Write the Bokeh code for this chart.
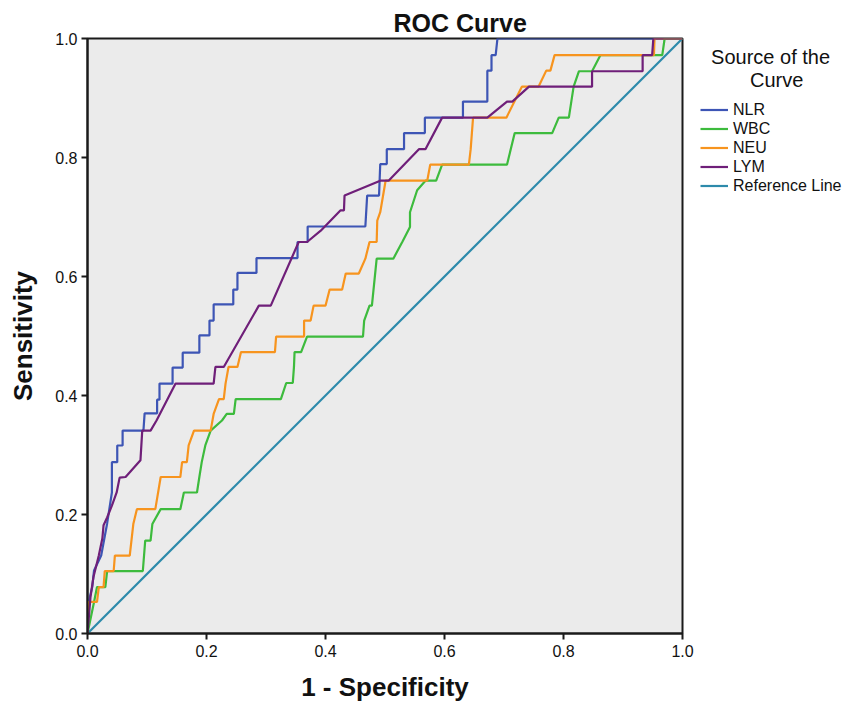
from bokeh.plotting import figure
from bokeh.models import Range1d, Legend, LegendItem, FixedTicker, PrintfTickFormatter
from bokeh.embed import file_html
from bokeh.resources import INLINE

# ---------------- data ----------------
nlr_fpr = [0, 0.002, 0.008, 0.011, 0.023, 0.033, 0.041, 0.041, 0.050, 0.050, 0.059, 0.059,
           0.094, 0.096, 0.117, 0.117, 0.121, 0.121, 0.143, 0.143, 0.160, 0.160, 0.188, 0.188,
           0.205, 0.205, 0.212, 0.212, 0.245, 0.245, 0.252, 0.252, 0.284, 0.284, 0.353, 0.353,
           0.370, 0.370, 0.467, 0.470, 0.490, 0.492, 0.503, 0.503, 0.532, 0.532, 0.567, 0.567,
           0.631, 0.631, 0.672, 0.672, 0.679, 0.679, 0.686, 0.689, 1.0]
nlr_tpr = [0, 0.053, 0.078, 0.106, 0.131, 0.185, 0.237, 0.288, 0.288, 0.316, 0.316, 0.341,
           0.341, 0.370, 0.370, 0.393, 0.393, 0.420, 0.420, 0.447, 0.447, 0.472, 0.472, 0.501,
           0.501, 0.526, 0.526, 0.553, 0.553, 0.578, 0.578, 0.606, 0.606, 0.631, 0.631, 0.658,
           0.658, 0.684, 0.684, 0.736, 0.736, 0.789, 0.789, 0.814, 0.814, 0.841, 0.841, 0.867,
           0.867, 0.894, 0.894, 0.946, 0.946, 0.972, 0.972, 1.0, 1.0]

wbc_fpr = [0, 0.011, 0.016, 0.030, 0.033, 0.093, 0.097, 0.106, 0.109, 0.123, 0.156, 0.162,
           0.184, 0.188, 0.192, 0.198, 0.207, 0.226, 0.234, 0.246, 0.249, 0.325, 0.334, 0.345,
           0.347, 0.348, 0.359, 0.369, 0.463, 0.465, 0.474, 0.478, 0.486, 0.514, 0.529, 0.542,
           0.542, 0.554, 0.568, 0.586, 0.596, 0.705, 0.718, 0.781, 0.792, 0.809, 0.817, 0.826,
           0.848, 0.862, 0.966, 0.970, 1.0]
wbc_tpr = [0, 0.053, 0.078, 0.078, 0.105, 0.105, 0.156, 0.156, 0.184, 0.209, 0.209, 0.237,
           0.237, 0.263, 0.288, 0.316, 0.341, 0.358, 0.369, 0.369, 0.394, 0.394, 0.421, 0.421,
           0.448, 0.473, 0.473, 0.499, 0.499, 0.526, 0.551, 0.551, 0.630, 0.630, 0.658, 0.683,
           0.708, 0.745, 0.761, 0.761, 0.788, 0.788, 0.841, 0.841, 0.867, 0.867, 0.919, 0.945,
           0.945, 0.972, 0.972, 1.0, 1.0]

neu_fpr = [0, 0.002, 0.016, 0.019, 0.027, 0.029, 0.044, 0.046, 0.071, 0.077, 0.083, 0.114,
           0.123, 0.156, 0.159, 0.167, 0.170, 0.179, 0.207, 0.212, 0.221, 0.229, 0.232, 0.237,
           0.252, 0.258, 0.315, 0.317, 0.364, 0.364, 0.375, 0.380, 0.400, 0.407, 0.428, 0.434,
           0.456, 0.467, 0.474, 0.486, 0.487, 0.492, 0.501, 0.571, 0.576, 0.641, 0.644, 0.648,
           0.704, 0.730, 0.758, 0.771, 0.778, 0.785, 0.952, 0.953, 1.0]
neu_tpr = [0, 0.053, 0.053, 0.078, 0.078, 0.105, 0.105, 0.131, 0.131, 0.184, 0.209, 0.209,
           0.263, 0.263, 0.288, 0.288, 0.316, 0.341, 0.341, 0.369, 0.394, 0.394, 0.420, 0.448,
           0.448, 0.473, 0.473, 0.499, 0.499, 0.526, 0.526, 0.551, 0.551, 0.578, 0.578, 0.605,
           0.605, 0.630, 0.658, 0.658, 0.694, 0.708, 0.761, 0.761, 0.788, 0.788, 0.814, 0.867,
           0.867, 0.919, 0.919, 0.946, 0.946, 0.972, 0.972, 1.0, 1.0]

lym_fpr = [0, 0.005, 0.010, 0.019, 0.025, 0.027, 0.033, 0.041, 0.049, 0.054, 0.064, 0.089,
           0.092, 0.106, 0.116, 0.148, 0.212, 0.215, 0.229, 0.288, 0.308, 0.355, 0.369, 0.392,
           0.425, 0.431, 0.432, 0.492, 0.506, 0.557, 0.568, 0.596, 0.672, 0.705, 0.714, 0.742,
           0.848, 0.848, 0.933, 0.933, 0.949, 0.951, 1.0]
lym_tpr = [0, 0.061, 0.095, 0.131, 0.160, 0.182, 0.195, 0.215, 0.237, 0.262, 0.263, 0.291,
           0.341, 0.341, 0.358, 0.420, 0.420, 0.448, 0.448, 0.551, 0.551, 0.658, 0.658, 0.677,
           0.711, 0.711, 0.736, 0.761, 0.761, 0.814, 0.814, 0.867, 0.867, 0.894, 0.894, 0.919,
           0.919, 0.945, 0.945, 0.972, 0.972, 1.0, 1.0]

ref_x = [0.0, 1.0]
ref_y = [0.0, 1.0]

tick_values = [0.0, 0.2, 0.4, 0.6, 0.8, 1.0]
series_names = ["NLR", "WBC", "NEU", "LYM", "Reference Line"]
series_colors = ["#3d55b5", "#3dbb3d", "#f7941e", "#6f1f79", "#2d8aab"]

# ---------------- figure ----------------
FONT = "Liberation Sans"
p = figure(frame_width=595, frame_height=595, output_backend="svg", toolbar_location=None,
           x_range=Range1d(0, 1), y_range=Range1d(0, 1),
           min_border_left=87, min_border_right=173, min_border_top=38, min_border_bottom=72,
           title="ROC Curve", x_axis_label="1 - Specificity", y_axis_label="Sensitivity")
p.background_fill_color = "#ebebeb"
p.border_fill_color = "white"
p.outline_line_color = "#1a1a1a"
p.outline_line_width = 2
p.grid.visible = False

p.title.text_font = FONT
p.title.text_font_size = "25px"
p.title.text_font_style = "bold"
p.title.text_color = "#111111"
p.title.align = "left"
p.title.offset = 306
p.title.standoff = 3

for ax in (p.xaxis[0], p.yaxis[0]):
    ax.ticker = FixedTicker(ticks=tick_values)
    ax.formatter = PrintfTickFormatter(format="%.1f")
    ax.major_tick_in = 0
    ax.major_tick_out = 6
    ax.minor_tick_in = 0
    ax.minor_tick_out = 0
    ax.major_tick_line_color = "#1a1a1a"
    ax.major_tick_line_width = 2
    ax.axis_line_color = "#1a1a1a"
    ax.axis_line_width = 2
    ax.major_label_text_font = FONT
    ax.major_label_text_font_size = "16px"
    ax.major_label_text_color = "#111111"
    ax.axis_label_text_font = FONT
    ax.axis_label_text_font_size = "26px"
    ax.axis_label_text_font_style = "bold"
    ax.axis_label_text_color = "#111111"
p.xaxis[0].major_label_standoff = 5
p.yaxis[0].major_label_standoff = 4
p.xaxis[0].axis_label_standoff = 12
p.yaxis[0].axis_label_standoff = 14

data = [(nlr_fpr, nlr_tpr), (wbc_fpr, wbc_tpr), (neu_fpr, neu_tpr), (lym_fpr, lym_tpr), (ref_x, ref_y)]
rmap = {}
for i in [4, 0, 1, 2, 3]:
    xs, ys = data[i]
    rmap[i] = p.line(xs, ys, line_color=series_colors[i], line_width=2.2)

items = [LegendItem(label=series_names[i], renderers=[rmap[i]]) for i in range(5)]
legend = Legend(items=items, location=(18, 438),
                title="\u00a0\u00a0Source of the\n" + "\u00a0" * 9 + "Curve",
                title_text_font=FONT, title_text_font_size="20px", title_text_font_style="normal",
                title_text_color="#111111", title_standoff=8,
                label_text_font=FONT, label_text_font_size="16px", label_text_color="#111111",
                glyph_width=28, glyph_height=19, label_height=19, label_standoff=5,
                spacing=0, padding=0, margin=0,
                border_line_color=None, background_fill_alpha=0)
p.add_layout(legend, "right")

open("out.html", "w").write(file_html(p, INLINE))
